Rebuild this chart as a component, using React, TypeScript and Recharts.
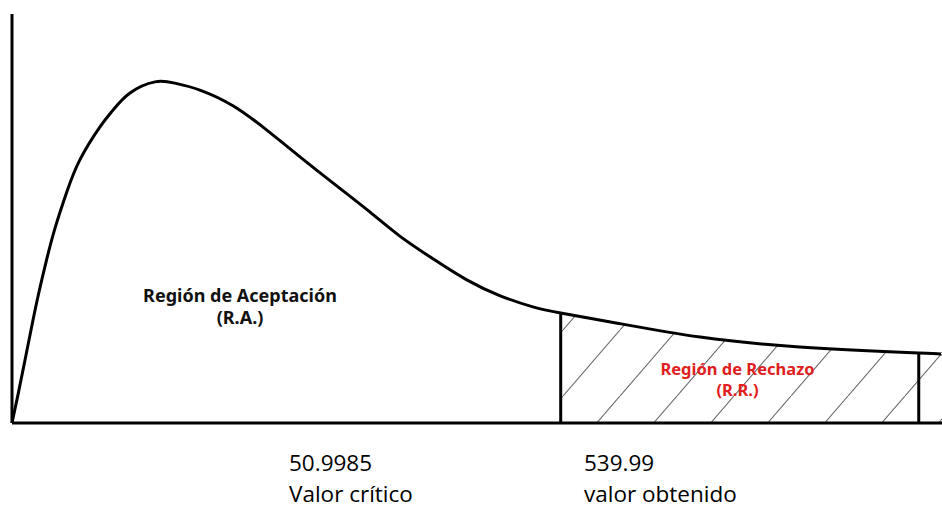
import React from "react";
import { ComposedChart, Line, Area, XAxis, YAxis, ReferenceLine } from "recharts";

// Curve (x: 0..100 across the plot, y: 0..100 height)
const curveX = [0, 0.68, 1.4, 2.12, 2.8, 3.73, 4.62, 5.88, 7.31, 9.46, 10.86, 12.69, 15.38, 17.5, 20.2, 23.8, 27.4, 31.0, 34.5, 38.2, 41.7, 45.3, 48.9, 52.5, 56.0, 59.0, 65.1, 74.0, 84.7, 97.5, 100];
const curveY = [0, 7.3, 15.4, 23.6, 31.0, 40.0, 47.6, 56.4, 64.4, 72.4, 76.5, 80.7, 83.4, 83.1, 81.4, 77.5, 71.6, 65.0, 58.7, 52.1, 45.7, 40.1, 35.0, 31.1, 28.4, 26.9, 24.4, 21.0, 18.6, 17.1, 16.9];

const criticalX = 59.0;
const obtainedX = 97.5;

const acceptLabel = ["Región de Aceptación", "(R.A.)"];
const rejectLabel = ["Región de Rechazo", "(R.R.)"];
const criticalLabel = ["50.9985", "Valor crítico"];
const obtainedLabel = ["539.99", "valor obtenido"];

const data = curveX.map((x, i) => ({
  x,
  density: curveY[i],
  reject: x >= criticalX ? curveY[i] : null,
}));

const yAt = (x: number) => curveY[curveX.indexOf(x)];

export default function App() {
  return (
    <div style={{ position: "absolute", left: 0, top: 0, width: 942, height: 509, background: "#fff" }}>
      <svg width={0} height={0} style={{ position: "absolute" }}>
        <defs>
          <pattern id="hatch" patternUnits="userSpaceOnUse" x={-7} y={0} width={57} height={66}>
            <line x1={0} y1={66} x2={57} y2={0} stroke="#666" strokeWidth={1.1} />
          </pattern>
        </defs>
      </svg>
      <ComposedChart
        width={942}
        height={509}
        data={data}
        margin={{ top: 14, right: 0, left: 0, bottom: 0 }}
      >
        <XAxis
          dataKey="x"
          type="number"
          domain={[0, 100]}
          tick={false}
          tickLine={false}
          height={86}
          axisLine={{ stroke: "#000", strokeWidth: 3 }}
        />
        <YAxis
          type="number"
          domain={[0, 100]}
          tick={false}
          tickLine={false}
          width={12}
          axisLine={{ stroke: "#000", strokeWidth: 3 }}
        />
        <Area
          dataKey="reject"
          type="natural"
          fill="url(#hatch)"
          fillOpacity={1}
          stroke="none"
          isAnimationActive={false}
          connectNulls={false}
        />
        <Line
          dataKey="density"
          type="natural"
          stroke="#000"
          strokeWidth={3}
          dot={false}
          isAnimationActive={false}
        />
        <ReferenceLine
          segment={[{ x: criticalX, y: 0 }, { x: criticalX, y: yAt(criticalX) }]}
          stroke="#000"
          strokeWidth={3}
        />
        <ReferenceLine
          segment={[{ x: obtainedX, y: 0 }, { x: obtainedX, y: yAt(obtainedX) }]}
          stroke="#000"
          strokeWidth={3}
        />
      </ComposedChart>
      <svg width={942} height={509} style={{ position: "absolute", left: 0, top: 0, pointerEvents: "none" }}>
        <g fontFamily="'Noto Sans', sans-serif" fontWeight="bold" textAnchor="middle">
          <text x={240} y={302} fontSize={18} fill="#111">{acceptLabel[0]}</text>
          <text x={240} y={324} fontSize={18} fill="#111">{acceptLabel[1]}</text>
          <text x={737.5} y={375} fontSize={16.5} fill="#e02020">{rejectLabel[0]}</text>
          <text x={737.5} y={396} fontSize={16.5} fill="#e02020">{rejectLabel[1]}</text>
        </g>
        <g fontFamily="'Open Sans', sans-serif" fill="#000" fontSize={22.5}>
          <text x={289} y={471}>{criticalLabel[0]}</text>
          <text x={289} y={502}>{criticalLabel[1]}</text>
          <text x={584} y={471}>{obtainedLabel[0]}</text>
          <text x={584} y={502}>{obtainedLabel[1]}</text>
        </g>
      </svg>
    </div>
  );
}
